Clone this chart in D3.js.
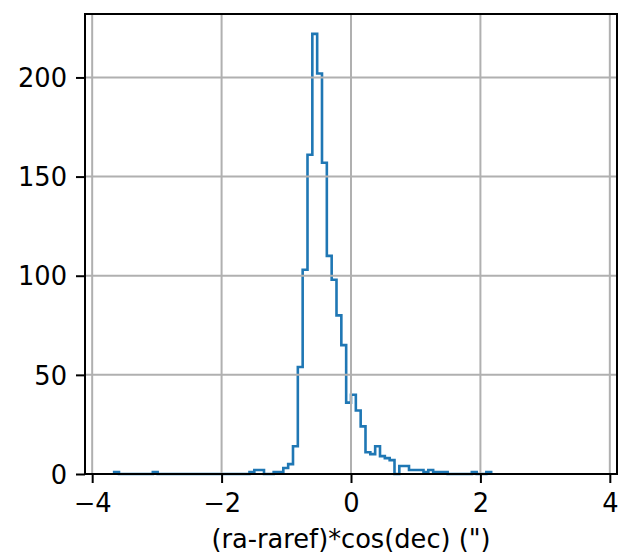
<!DOCTYPE html>
<html>
<head>
<meta charset="utf-8">
<script src="https://cdn.jsdelivr.net/npm/d3@7"></script>
<style>
  html, body { margin: 0; padding: 0; background: #fff; }
  svg { display: block; font-family: "DejaVu Sans", sans-serif; }
</style>
</head>
<body>
<svg id="chart" width="619" height="556"></svg>
<script>
// ---- data ----
const binWidth = 0.0747;
const firstEdge = -49 * 0.0747;
const counts = [
  1, 0, 0, 0, 0, 0, 0, 0,
  1, 0, 0, 0, 0, 0, 0, 0, 0, 0, 0, 0, 0, 0, 0, 0, 0, 0, 0, 0,
  1, 2, 2, 0, 0, 1, 1, 3, 5, 14, 54, 103, 161, 222, 202, 157, 110, 98, 80, 65, 36,
  40, 32, 24, 11, 10, 14, 9, 8, 7, 0, 4, 4, 2, 2, 2, 1, 2, 1, 1, 1,
  0, 0, 0, 0, 0, 1, 0, 0, 1
];
const xTicks = [-4, -2, 0, 2, 4];
const yTicks = [0, 50, 100, 150, 200];
const xDomain = [-4.111, 4.111];
const yDomain = [0, 232];
const xLabel = '(ra-raref)*cos(dec) (")';

// ---- layout ----
const L = 85, R = 617, T = 14, B = 474;
const svg = d3.select("#chart");
const x = d3.scaleLinear().domain(xDomain).range([L, R]);
const y = d3.scaleLinear().domain(yDomain).range([B, T]);
const fs = 25.7;

// histogram step path
const pts = [];
counts.forEach((c, i) => {
  const x0 = firstEdge + i * binWidth;
  pts.push([x0, c]);
});
pts.push([firstEdge + counts.length * binWidth, counts[counts.length - 1]]);
const full = [[firstEdge, 0], ...pts, [firstEdge + counts.length * binWidth, 0]];
const line = d3.line().x(d => x(d[0])).y(d => y(d[1])).curve(d3.curveStepAfter);
// build manual step: start at baseline, go up, steps, down
const stepPts = [[firstEdge, 0]];
counts.forEach((c, i) => {
  const x0 = firstEdge + i * binWidth, x1 = x0 + binWidth;
  stepPts.push([x0, c], [x1, c]);
});
stepPts.push([firstEdge + counts.length * binWidth, 0]);
const linear = d3.line().x(d => x(d[0])).y(d => y(d[1]));

svg.append("path")
  .attr("d", linear(stepPts))
  .attr("fill", "none")
  .attr("stroke", "#1f77b4")
  .attr("stroke-width", 2.6)
  .attr("stroke-linejoin", "miter");

// grid
const grid = svg.append("g");
grid.selectAll("line.gx").data(xTicks).enter().append("line")
  .attr("x1", d => x(d)).attr("x2", d => x(d))
  .attr("y1", T).attr("y2", B)
  .attr("stroke", "#b0b0b0").attr("stroke-width", 2);
grid.selectAll("line.gy").data(yTicks).enter().append("line")
  .attr("x1", L).attr("x2", R)
  .attr("y1", d => y(d)).attr("y2", d => y(d))
  .attr("stroke", "#b0b0b0").attr("stroke-width", 2);

// axes
const fmt = d => (d < 0 ? "\u2212" + Math.abs(d) : String(d));
const xAxis = d3.axisBottom(x).tickValues(xTicks).tickFormat(fmt).tickSize(9).tickPadding(9);
const yAxis = d3.axisLeft(y).tickValues(yTicks).tickFormat(fmt).tickSize(9).tickPadding(9);

const gx = svg.append("g").attr("transform", `translate(0,${B})`).call(xAxis);
const gy = svg.append("g").attr("transform", `translate(${L},0)`).call(yAxis);
[gx, gy].forEach(g => {
  g.select(".domain").remove();
  g.selectAll(".tick line").attr("stroke", "#000").attr("stroke-width", 2);
  g.selectAll(".tick text").attr("fill", "#000").attr("font-size", fs)
    .attr("font-family", "DejaVu Sans, sans-serif");
});
gx.selectAll(".tick text").attr("dy", null).attr("y", 38 ).attr("dominant-baseline", "auto");
gy.selectAll(".tick text").attr("dy", "0.36em");

// spines
svg.append("rect").attr("x", L).attr("y", T).attr("width", R - L).attr("height", B - T)
  .attr("fill", "none").attr("stroke", "#000").attr("stroke-width", 2);

// x label
svg.append("text")
  .attr("x", (L + R) / 2).attr("y", 548)
  .attr("text-anchor", "middle")
  .attr("font-size", fs)
  .attr("fill", "#000")
  .text(xLabel);
</script>
</body>
</html>
